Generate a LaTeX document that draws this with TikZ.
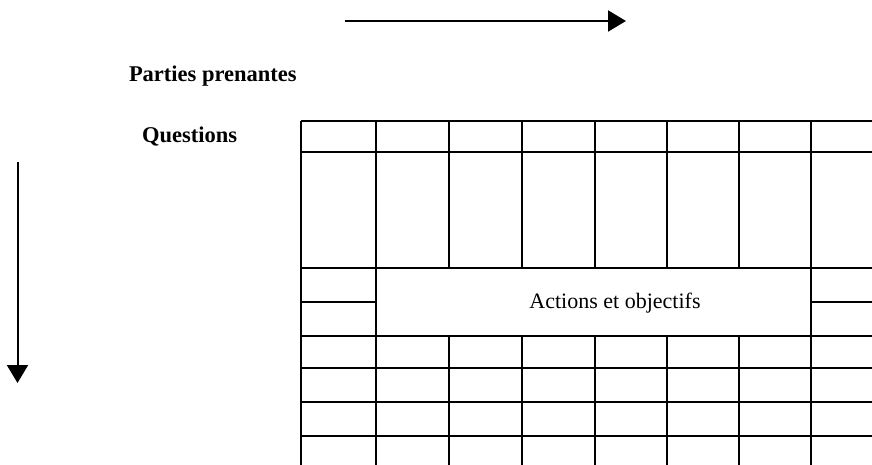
\documentclass[tikz,border=0pt]{standalone}
\usepackage{fontspec}
\setmainfont{Liberation Serif}
\usetikzlibrary{arrows.meta,positioning}

\begin{document}
\begin{tikzpicture}[x=1pt,y=-1pt,line width=2pt,
    grille/.style={line width=2pt},
    fleche/.style={line width=2pt,-{Triangle[length=18pt,width=21pt]}},
    titre/.style={anchor=base west,inner sep=0pt,font=\fontsize{22.5}{26}\selectfont\bfseries}]

  \useasboundingbox (0,0) rectangle (872,464);

  % fleches
  \coordinate (hd) at (345,21);
  \coordinate (hf) at (626,21);
  \coordinate (vd) at (17.5,162);
  \coordinate (vf) at (17.5,383);
  \draw[fleche] (hd) -- (hf);
  \draw[fleche] (vd) -- (vf);

  \node[titre] (pp) at (128,81)  {Parties prenantes};
  \node[titre] (q)  at (141,142) {Questions};

  % tableau
  \foreach \y in {121,152,268,336,368,402,436}
    \draw[grille] (301,\y) -- (873,\y);
  \draw[grille] (301,302) -- (376,302);
  \draw[grille] (811,302) -- (873,302);
  \foreach \x in {301,376,811}
    \draw[grille] (\x,121) -- (\x,465);
  \foreach \x in {449,522,595,667,739} {
    \draw[grille] (\x,121) -- (\x,268);
    \draw[grille] (\x,336) -- (\x,465);
  }

  \node[anchor=base,inner sep=0pt,font=\fontsize{22}{26}\selectfont]
    (ao) at (615,308) {Actions et objectifs};
\end{tikzpicture}
\end{document}
